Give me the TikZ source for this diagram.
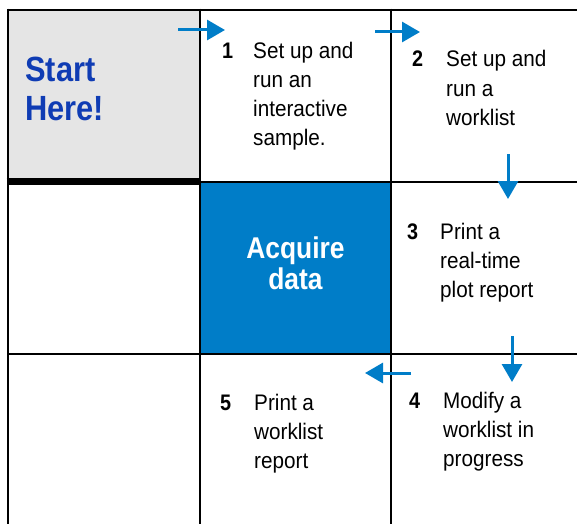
\documentclass[tikz,border=0pt]{standalone}
\usepackage{fontspec}
\setmainfont{Liberation Sans}[FakeStretch=0.92]
\newfontfamily\condfont[FakeStretch=0.88]{Liberation Sans}
\usetikzlibrary{arrows.meta}
\definecolor{gridgray}{RGB}{229,229,229}
\definecolor{boxblue}{RGB}{0,125,200}
\definecolor{arrowblue}{RGB}{0,125,200}
\definecolor{startblue}{RGB}{15,60,180}
\tikzset{
  gridline/.style={line width=2.6pt, black},
  flowarrow/.style={line width=3pt, arrowblue, -{Triangle[length=18pt,width=20pt]}},
  numtext/.style={inner sep=0pt, anchor=base west, font=\condfont\fontsize{22.5}{29.3}\selectfont\bfseries},
  steptext/.style={inner sep=0pt, anchor=base west, align=left, font=\fontsize{22.5}{29.3}\selectfont},
}
\begin{document}
\begin{tikzpicture}[x=1pt,y=-1pt]
\useasboundingbox (0,0) rectangle (577,524);
% fills
\fill[gridgray] (8,10) rectangle (200,179);
\fill[boxblue] (200,182) rectangle (391,354);
% grid
\draw[gridline] (8,10) -- (577,10);
\draw[gridline] (200,182) -- (577,182);
\draw[gridline] (8,354) -- (577,354);
\draw[line width=7pt] (6.7,181.5) -- (201.3,181.5);
\draw[gridline] (8,8.7) -- (8,524);
\draw[gridline] (200,8.7) -- (200,524);
\draw[gridline] (391,8.7) -- (391,524);
% titles (base anchor = baseline of last line)
\node[inner sep=0pt, anchor=base west, align=left, text=startblue,
      font=\condfont\fontsize{35}{39}\selectfont\bfseries] (start) at (25,121) {Start\\Here!};
\node[inner sep=0pt, anchor=base, align=center, text=white,
      font=\condfont\fontsize{30}{31}\selectfont\bfseries] (acquire) at (295.5,289) {Acquire\\data};
% steps
\node[numtext] (n1) at (222,59) {1};
\node[steptext, font=\fontsize{22.5}{28.7}\selectfont] (s1) at (253,145) {Set up and\\run an\\interactive\\sample.};
\node[numtext] (n2) at (412,67) {2};
\node[steptext] (s2) at (446,125.6) {Set up and\\run a\\worklist};
\node[numtext] (n3) at (407,239) {3};
\node[steptext] (s3) at (440,297.6) {Print a\\real-time\\plot report};
\node[numtext] (n4) at (409,408) {4};
\node[steptext] (s4) at (443,466.6) {Modify a\\worklist in\\progress};
\node[numtext] (n5) at (220,410) {5};
\node[steptext] (s5) at (254,468.6) {Print a\\worklist\\report};
% arrows
\coordinate (a1s) at (178,30); \coordinate (a1e) at (225,30);
\coordinate (a2s) at (375,32); \coordinate (a2e) at (420,32);
\coordinate (a3s) at (508,154); \coordinate (a3e) at (508,199);
\coordinate (a4s) at (512,336); \coordinate (a4e) at (512,382);
\coordinate (a5s) at (411,373); \coordinate (a5e) at (365,373);
\draw[flowarrow] (a1s) -- (a1e);
\draw[flowarrow] (a2s) -- (a2e);
\draw[flowarrow] (a3s) -- (a3e);
\draw[flowarrow] (a4s) -- (a4e);
\draw[flowarrow] (a5s) -- (a5e);
\end{tikzpicture}
\end{document}
